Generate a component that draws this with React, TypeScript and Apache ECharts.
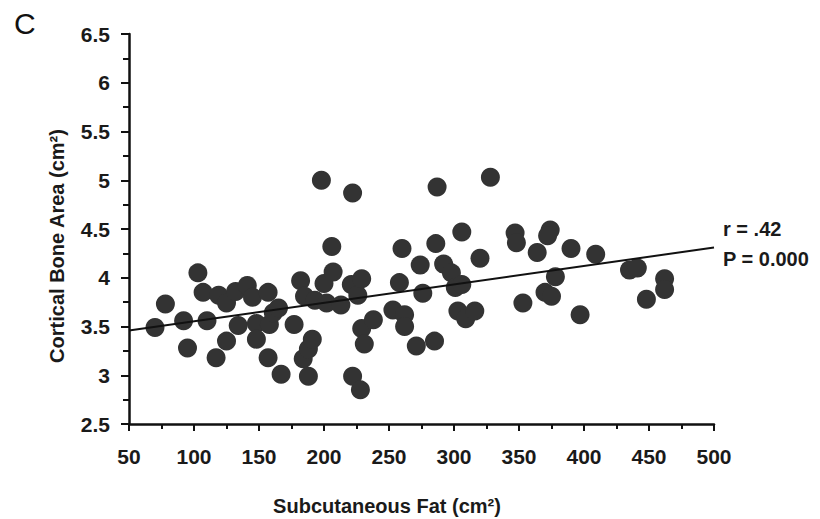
import React, { useEffect, useRef } from "react";
import * as echarts from "echarts";

// Subcutaneous fat (cm²) vs cortical bone area (cm²)
const fatValues: number[] = [
  70, 78, 92, 95, 103, 107, 110, 117, 119, 125, 125, 132, 134, 141, 145, 148,
  148, 157, 158, 157, 161, 165, 167, 177, 182, 185, 193, 184, 188, 191, 188,
  198, 200, 202, 206, 207, 213, 221, 222, 226, 229, 222, 228, 229, 231, 238,
  253, 258, 260, 262, 262, 271, 274, 276, 285, 286, 287, 292, 298, 301, 306,
  306, 303, 309, 316, 320, 328, 347, 348, 353, 364, 370, 374, 372, 375, 378,
  390, 397, 409, 435, 441, 448, 462, 462,
];
const boneValues: number[] = [
  3.49, 3.73, 3.56, 3.28, 4.05, 3.85, 3.56, 3.18, 3.82, 3.35, 3.74, 3.86, 3.51,
  3.92, 3.8, 3.53, 3.37, 3.85, 3.52, 3.18, 3.64, 3.69, 3.01, 3.52, 3.97, 3.81,
  3.77, 3.17, 3.27, 3.37, 2.99, 5.0, 3.94, 3.74, 4.32, 4.06, 3.72, 3.93, 4.87,
  3.82, 3.99, 2.99, 2.85, 3.48, 3.32, 3.57, 3.67, 3.95, 4.3, 3.62, 3.5, 3.3,
  4.13, 3.84, 3.35, 4.35, 4.93, 4.14, 4.05, 3.9, 3.93, 4.47, 3.66, 3.58, 3.66,
  4.2, 5.03, 4.46, 4.36, 3.74, 4.26, 3.85, 4.49, 4.43, 3.81, 4.01, 4.3, 3.62,
  4.24, 4.08, 4.1, 3.78, 3.99, 3.88,
];

// Fitted regression line end points
const fitX: number[] = [50, 500];
const fitY: number[] = [3.46, 4.31];

const xTitle = "Subcutaneous Fat (cm²)";
const yTitle = "Cortical Bone Area (cm²)";
const statLines: string[] = ["r = .42", "P = 0.000"];
const panelLetter = "C";

const FONT = "'Liberation Sans', Arial, Helvetica, sans-serif";
const INK = "#1a1a1a";

export default function App() {
  const ref = useRef<HTMLDivElement>(null);

  useEffect(() => {
    if (!ref.current) return;
    const chart = echarts.init(ref.current, undefined, { renderer: "svg" });
    const points = fatValues.map((x, i) => [x, boneValues[i]]);
    const fit = fitX.map((x, i) => [x, fitY[i]]);

    chart.setOption({
      animation: false,
      backgroundColor: "#ffffff",
      grid: { left: 129, right: 106, top: 34, bottom: 95, containLabel: false },
      xAxis: {
        type: "value",
        min: 50,
        max: 500,
        interval: 50,
        axisLine: { lineStyle: { color: "#111", width: 2.5 } },
        axisTick: { show: true, length: 7, lineStyle: { color: "#111", width: 2 } },
        minorTick: { show: true, splitNumber: 2, length: 5, lineStyle: { color: "#111", width: 2 } },
        splitLine: { show: false },
        axisLabel: { fontFamily: FONT, fontSize: 21, fontWeight: "bold", color: INK, margin: 22 },
      },
      yAxis: {
        type: "value",
        min: 2.5,
        max: 6.5,
        interval: 0.5,
        axisLine: { show: true, lineStyle: { color: "#111", width: 2.5 } },
        axisTick: { show: true, length: 8, lineStyle: { color: "#111", width: 2 } },
        minorTick: { show: true, splitNumber: 2, length: 6, lineStyle: { color: "#111", width: 2 } },
        splitLine: { show: false },
        axisLabel: { fontFamily: FONT, fontSize: 21, fontWeight: "bold", color: INK, margin: 19 },
      },
      series: [
        {
          type: "line",
          data: fit,
          symbol: "none",
          lineStyle: { color: "#111", width: 2 },
          z: 3,
        },
        {
          type: "scatter",
          data: points,
          symbolSize: 19,
          itemStyle: { color: "#333333", opacity: 1 },
          z: 2,
        },
      ],
      graphic: [
        {
          type: "text",
          left: 14,
          top: 8,
          style: { text: panelLetter, fontFamily: FONT, fontSize: 30, fill: "#111" },
        },
        {
          type: "text",
          x: 387,
          y: 506,
          style: {
            text: xTitle,
            fontFamily: FONT,
            fontSize: 20,
            fontWeight: "bold",
            fill: INK,
            align: "center",
            verticalAlign: "middle",
          },
        },
        {
          type: "text",
          x: 57,
          y: 246,
          rotation: Math.PI / 2,
          style: {
            text: yTitle,
            fontFamily: FONT,
            fontSize: 20,
            fontWeight: "bold",
            fill: INK,
            align: "center",
            verticalAlign: "middle",
          },
        },
        {
          type: "text",
          x: 723,
          y: 229,
          style: {
            text: statLines[0],
            fontFamily: FONT,
            fontSize: 20,
            fontWeight: "bold",
            fill: INK,
            verticalAlign: "middle",
          },
        },
        {
          type: "text",
          x: 723,
          y: 259,
          style: {
            text: statLines[1],
            fontFamily: FONT,
            fontSize: 20,
            fontWeight: "bold",
            fill: INK,
            verticalAlign: "middle",
          },
        },
      ],
    });

    return () => chart.dispose();
  }, []);

  return <div ref={ref} style={{ width: 820, height: 519, position: "absolute", left: 0, top: 0 }} />;
}
